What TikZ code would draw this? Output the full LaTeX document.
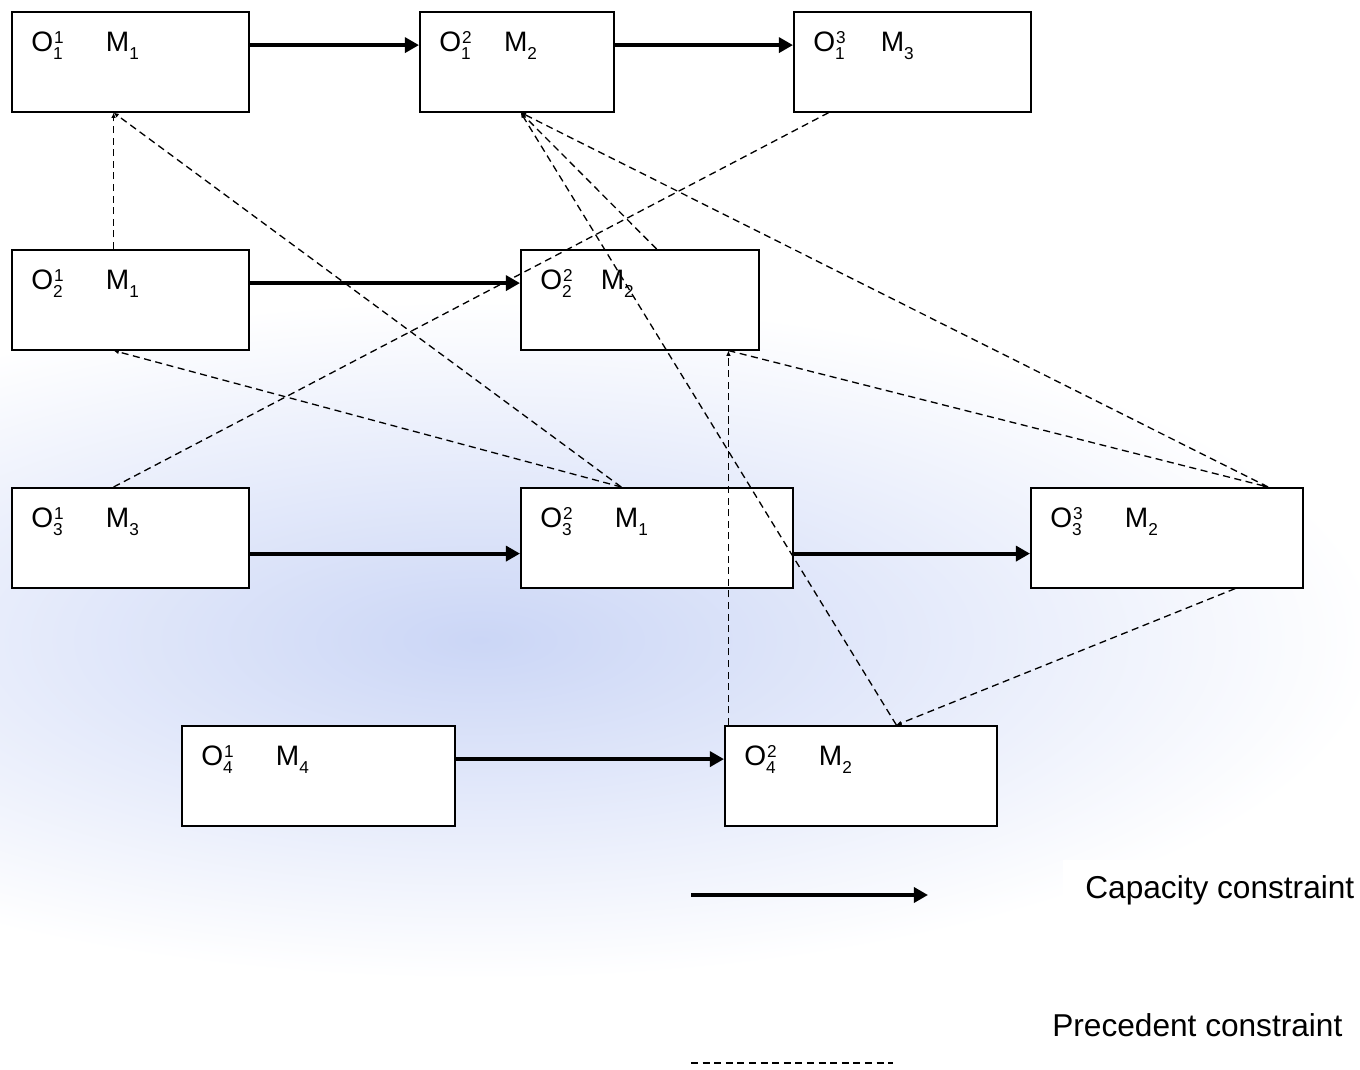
\documentclass[tikz,border=0pt]{standalone}
\usepackage{fontspec}
\setmainfont{Liberation Sans}
\usetikzlibrary{arrows.meta,calc}

\definecolor{snowblue}{RGB}{203,214,246}

% operation label: O_job^step  M_machine
\newcommand{\scriptsz}{\fontsize{9.8}{12}\selectfont}
\newcommand{\opname}[4][1.5em]{O\makebox[0pt][l]{\raisebox{-4pt}{\scriptsz #2}}\raisebox{5pt}{\scriptsz\kern0.5pt #3}\hspace{#1}M\raisebox{-4pt}{\scriptsz #4}}

\tikzset{
  opbox/.style={draw=black,line width=0.9pt,fill=white,anchor=north west,inner sep=0pt,minimum height=100*0.02cm},
  oplabel/.style={anchor=base west,inner sep=0pt,font=\fontsize{16}{18}\selectfont},
  capacity/.style={line width=2.3pt,-{Triangle[length=8pt,width=8.5pt]}},
  precedent/.style={line width=0.75pt,dash pattern=on 4pt off 2.6pt},
  tip/.style={-{Latex[length=3pt,width=2.6pt]}},
  legendtext/.style={anchor=west,inner sep=0pt,font=\fontsize{18}{20}\selectfont}
}

\begin{document}
\begin{tikzpicture}[x=0.02cm,y=-0.02cm]
\useasboundingbox (0,0) rectangle (1360,1070);
% snowy background
\shade[inner color=snowblue,outer color=white] (480,640) ellipse (900 and 340);
\fill[white] (1063,860) rectangle (1360,963);
\fill[white] (850,1000) rectangle (1360,1070);

% operations
\foreach \n/\x/\y/\w in {o11/11/11/237, o12/419/11/194, o13/793/11/237,
                         o21/11/249/237, o22/520/249/238,
                         o31/11/487/237, o32/520/487/272, o33/1030/487/272,
                         o41/181/725/273, o42/724/725/272}
  \node[opbox,minimum width=\w*0.02cm] (\n) at (\x,\y) {};

\foreach \n/\lab in {o11/{\opname{1}{1}{1}}, o12/{\opname[1.15em]{1}{2}{2}},
                     o13/{\opname[1.25em]{1}{3}{3}}, o21/{\opname{2}{1}{1}},
                     o22/{\opname[1.0em]{2}{2}{2}}, o31/{\opname{3}{1}{3}},
                     o32/{\opname{3}{2}{1}}, o33/{\opname{3}{3}{2}},
                     o41/{\opname{4}{1}{4}}, o42/{\opname{4}{2}{2}}}
  \node[oplabel] (\n-text) at ($(\n.north west)+(20,41)$) {\lab};

% capacity constraints
\draw[capacity] ([yshift=9.5pt]o11.east) -- ([yshift=9.5pt]o12.west);
\draw[capacity] ([yshift=9.5pt]o12.east) -- ([yshift=9.5pt]o13.west);
\draw[capacity] ([yshift=9.5pt]o21.east) -- ([yshift=9.5pt]o22.west);
\draw[capacity] ([yshift=-9pt]o31.east) -- ([yshift=-9pt]o32.west);
\draw[capacity] ([yshift=-9pt]o32.east) -- ([yshift=-9pt]o33.west);
\draw[capacity] ([yshift=9.5pt]o41.east) -- ([yshift=9.5pt]o42.west);

% precedent constraints
\coordinate (o11s) at ($(o11.south west)!0.43!(o11.south east)$);
\coordinate (o12s) at ($(o12.south west)!0.52!(o12.south east)$);
\coordinate (o13s) at ($(o13.south west)!0.15!(o13.south east)$);
\coordinate (o21n) at ($(o21.north west)!0.43!(o21.north east)$);
\coordinate (o21s) at ($(o21.south west)!0.43!(o21.south east)$);
\coordinate (o22n) at ($(o22.north west)!0.57!(o22.north east)$);
\coordinate (o22s) at ($(o22.south west)!0.87!(o22.south east)$);
\coordinate (o31n) at ($(o31.north west)!0.43!(o31.north east)$);
\coordinate (o32n) at ($(o32.north west)!0.37!(o32.north east)$);
\coordinate (o33n) at ($(o33.north west)!0.87!(o33.north east)$);
\coordinate (o33s) at ($(o33.south west)!0.75!(o33.south east)$);
\coordinate (o42n) at ($(o42.north west)!0.63!(o42.north east)$);

\draw[precedent,tip] (o21n) -- (o11s);
\draw[precedent,tip] (o32n) -- (o11s);
\draw[precedent,tip] (o32n) -- (o21s);
\draw[precedent] (o31n) -- (o13s);
\draw[precedent,tip] (o22n) -- (o12s);
\draw[precedent,tip] (o42n) -- (o12s);
\draw[precedent,tip] (o33n) -- (o12s);
\draw[precedent,tip] (o22s |- o42.north) -- (o22s);
\draw[precedent,tip] (o22s) -- (o33n);
\draw[precedent,tip] (o33s) -- (o42n);

% legend
\coordinate (capa) at (691,895);
\coordinate (capb) at (928,895);
\draw[capacity] (capa) -- (capb);
\node[legendtext] (captext) at (1085,890) {Capacity constraint};
\coordinate (preca) at (691,1063);
\coordinate (precb) at (893,1063);
\draw[precedent] (preca) -- (precb);
\node[legendtext] (prectext) at (1052,1025) {Precedent constraint};
\end{tikzpicture}
\end{document}
